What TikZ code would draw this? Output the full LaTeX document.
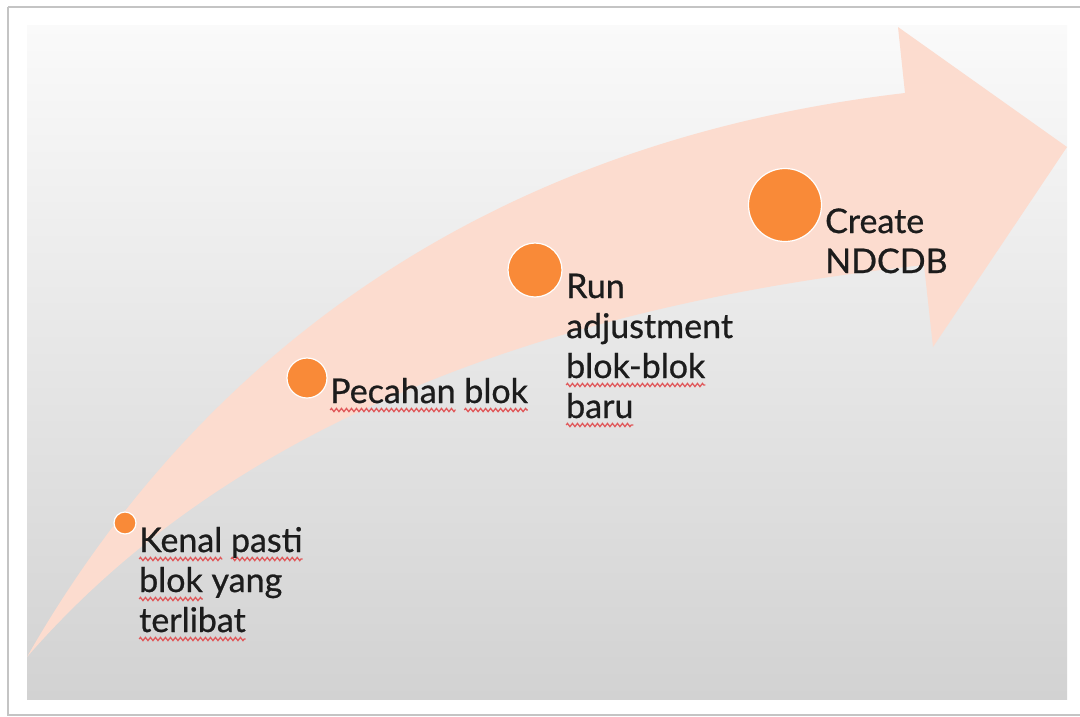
\documentclass[tikz,border=0pt]{standalone}
\usepackage{fontspec}
\setmainfont{Lato}
\newfontfamily\stepfont{Lato}[FakeBold=0.7]
\usetikzlibrary{decorations.pathmorphing}

\definecolor{framegray}{HTML}{C4C4C4}
\definecolor{bgtop}{HTML}{FAFAFA}
\definecolor{bgmid}{HTML}{EEEEEE}
\definecolor{bgbot}{HTML}{D2D2D2}
\definecolor{peach}{HTML}{FCDCCF}
\definecolor{dotorange}{HTML}{F98A38}
\definecolor{squigred}{HTML}{E0585A}
\definecolor{inkblack}{HTML}{1C1C1C}

% wavy red underline below a word
\newdimen\squigwd
\newcommand\squig[1]{%
  \setbox0\hbox{#1}\global\squigwd=\wd0
  \leavevmode\rlap{\tikz[overlay,x=1pt,y=1pt]\draw[squigred,line width=1.3pt,
    decorate,decoration={zigzag,amplitude=1.6pt,segment length=5pt}]
    (0pt,-7pt)--(\squigwd,-7pt);}\box0\relax}

\begin{document}
\begin{tikzpicture}[x=1pt,y=-1pt,
  steptext/.style={anchor=base west, align=left, inner sep=0pt,
    font=\stepfont\fontsize{34}{40}\selectfont, text=inkblack},
  stepdot/.style={circle, fill=dotorange, draw=white, line width=1.2pt,
    inner sep=0pt}]
\useasboundingbox (0,0) rectangle (1080,716);
\clip (0,0) rectangle (1080,716);
\fill[white] (0,0) rectangle (1080,716);

% frame and slide background
\draw[framegray, line width=1.5pt] (8,7) -- (1090,7) (8,7) -- (8,715) -- (1090,715);
\shade[top color=bgtop, middle color=bgmid, bottom color=bgbot]
  (27,25) rectangle (1067,699);

% rising arrow
\fill[peach] (27,657) .. controls (185,380) and (460,145) .. (905,93)
  -- (898,27) -- (1067,147) -- (933,347) -- (924,265)
  .. controls (600,300) and (250,400) .. (27,657) -- cycle;

% milestones
\node[stepdot, minimum size=22] (d1) at (125,523) {};
\node[stepdot, minimum size=40] (d2) at (307,378) {};
\node[stepdot, minimum size=54] (d3) at (535,270) {};
\node[stepdot, minimum size=73] (d4) at (785,205) {};

% labels, placed by the baseline of their last line
\node[steptext] (t1) at (139,632) {\squig{Kenal} \squig{pasti}\\\squig{blok} yang\\\squig{terlibat}};
\node[steptext] (t2) at (330,403) {\squig{Pecahan} \squig{blok}};
\node[steptext] (t3) at (566,418) {Run\\adjustment\\\squig{blok-blok}\\\squig{baru}};
\node[steptext] (t4) at (825,273) {Create\\NDCDB};
\end{tikzpicture}
\end{document}
